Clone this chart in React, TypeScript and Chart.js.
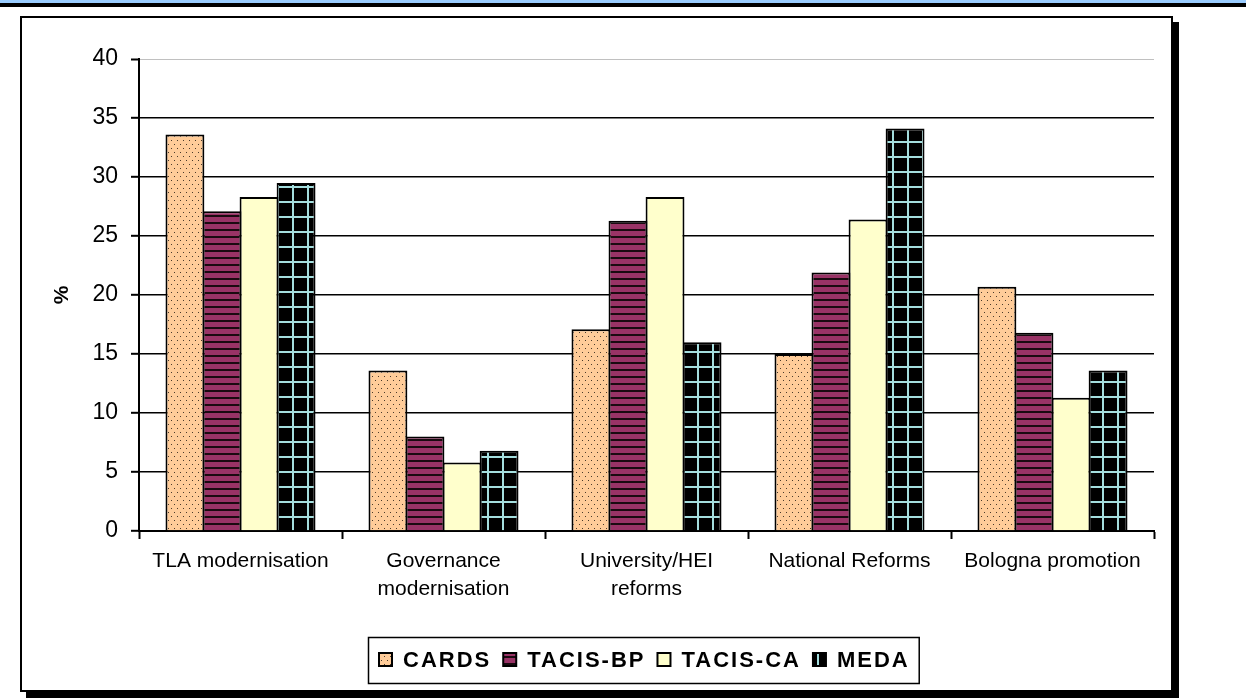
import React, { useEffect, useRef } from "react";
import { Chart, registerables } from "chart.js";

Chart.register(...registerables);

// ---- data ----
const categories: (string | string[])[] = [
  "TLA modernisation",
  ["Governance", "modernisation"],
  ["University/HEI", "reforms"],
  "National Reforms",
  "Bologna promotion",
];
const seriesNames = ["CARDS", "TACIS-BP", "TACIS-CA", "MEDA"];
const cardsValues = [33.6, 13.6, 17.1, 15.0, 20.7];
const tacisBpValues = [27.1, 8.0, 26.3, 21.9, 16.8];
const tacisCaValues = [28.3, 5.8, 28.3, 26.4, 11.3];
const medaValues = [29.5, 6.8, 16.0, 34.1, 13.6];
const yMin = 0;
const yMax = 40;
const yStep = 5;
const yAxisTitle = "%";

const FONT = 'Arial, "Liberation Sans", sans-serif';

function makeTile(w: number, h: number, draw: (g: CanvasRenderingContext2D) => void) {
  const c = document.createElement("canvas");
  c.width = w;
  c.height = h;
  const g = c.getContext("2d")!;
  draw(g);
  return c;
}

const boxLegend = {
  id: "boxLegend",
  afterDraw(chart: any) {
    const ctx: CanvasRenderingContext2D = chart.ctx;
    ctx.save();
    ctx.font = `bold 22px ${FONT}`;
    (ctx as any).letterSpacing = "2px";
    ctx.textBaseline = "middle";
    ctx.textAlign = "left";
    const left = 368;
    const top = 637;
    const bottom = 683;
    const cy = 660;
    const items = chart.data.datasets.map((ds: any) => ({ label: ds.label, fill: ds.backgroundColor }));
    let cx = left + 11;
    const pos: { sx: number; tx: number; w: number }[] = [];
    items.forEach((it: any) => {
      const w = ctx.measureText(it.label).width;
      pos.push({ sx: cx, tx: cx + 24, w });
      cx = cx + 24 + w + 12;
    });
    const right = cx - 12 + 9;
    ctx.lineWidth = 1.5;
    ctx.strokeStyle = "#000";
    ctx.strokeRect(left + 0.5, top + 0.5, right - left, bottom - top);
    items.forEach((it: any, i: number) => {
      ctx.fillStyle = it.fill;
      ctx.fillRect(pos[i].sx, cy - 7, 13, 13);
      ctx.lineWidth = 2;
      ctx.strokeRect(pos[i].sx, cy - 7, 13, 13);
      ctx.fillStyle = "#000";
      ctx.fillText(it.label, pos[i].tx, cy + 1);
    });
    ctx.restore();
  },
};

export default function App() {
  const canvasRef = useRef<HTMLCanvasElement | null>(null);

  useEffect(() => {
    const canvas = canvasRef.current!;
    const ctx = canvas.getContext("2d")!;

    const dots = ctx.createPattern(
      makeTile(6, 8, (g) => {
        g.fillStyle = "#FFCC99";
        g.fillRect(0, 0, 6, 8);
        g.fillStyle = "#4a3a2a";
        g.fillRect(0, 0, 1, 1);
        g.fillRect(3, 4, 1, 1);
      }),
      "repeat"
    )!;
    const stripes = ctx.createPattern(
      makeTile(4, 7, (g) => {
        g.fillStyle = "#993366";
        g.fillRect(0, 0, 4, 7);
        g.fillStyle = "#1a0a10";
        g.fillRect(0, 5, 4, 2);
      }),
      "repeat"
    )!;
    const grid = ctx.createPattern(
      makeTile(15, 15, (g) => {
        g.fillStyle = "#000";
        g.fillRect(0, 0, 15, 15);
        g.fillStyle = "#a4dede";
        g.fillRect(0, 6, 15, 2);
        g.fillRect(7, 0, 2, 15);
      }),
      "repeat"
    )!;

    const fills: any[] = [dots, stripes, "#FFFFCC", grid];
    const values = [cardsValues, tacisBpValues, tacisCaValues, medaValues];

    const chart = new Chart(canvas, {
      type: "bar",
      data: {
        labels: categories as any,
        datasets: seriesNames.map((name, i) => ({
          label: name,
          data: values[i],
          backgroundColor: fills[i],
          borderColor: "#000",
          borderWidth: 2,
          categoryPercentage: 0.73,
          barPercentage: 1.05,
        })),
      },
      options: {
        animation: false,
        responsive: false,
        maintainAspectRatio: false,
        layout: { padding: { left: 40, right: 92, top: 59, bottom: 69 } },
        plugins: {
          legend: { display: false },
          tooltip: { enabled: false },
        },
        scales: {
          x: {
            grid: {
              drawOnChartArea: false,
              drawTicks: true,
              tickLength: 8,
              tickColor: "#000",
              tickWidth: 2,
              offset: true,
            },
            border: { display: true, color: "#000", width: 2 },
            ticks: {
              color: "#000",
              font: { family: FONT, size: 21, lineHeight: 1.3 },
              padding: 9,
              maxRotation: 0,
              autoSkip: false,
            },
            afterFit: (s: any) => {
              s.height = 100;
            },
          },
          y: {
            min: yMin,
            max: yMax,
            ticks: {
              stepSize: yStep,
              color: "#000",
              font: { family: FONT, size: 23 },
              padding: 13,
            },
            grid: {
              color: (c: any) => (c.tick && c.tick.value === yMax ? "#c0c0c0" : "#000"),
              lineWidth: (c: any) => (c.tick && c.tick.value === yMax ? 1 : 1.6),
              tickColor: "#000",
              tickWidth: 2,
              tickLength: 8,
            },
            border: { display: true, color: "#000", width: 2 },
            title: {
              display: true,
              text: yAxisTitle,
              color: "#000",
              font: { family: FONT, size: 21, weight: "bold" },
              padding: { top: 10, bottom: 0 },
            },
            afterFit: (s: any) => {
              s.width = 99;
            },
          },
        },
      } as any,
      plugins: [boxLegend],
    });

    return () => chart.destroy();
  }, []);

  return (
    <div style={{ position: "absolute", left: 0, top: 0, width: 1246, height: 700, background: "#fff", overflow: "hidden" }}>
      <div style={{ position: "absolute", left: 0, top: 0, width: 1246, height: 3, background: "#99CCFF" }} />
      <div style={{ position: "absolute", left: 0, top: 3, width: 1246, height: 4, background: "#000" }} />
      <div
        style={{
          position: "absolute",
          left: 20,
          top: 16,
          width: 1149,
          height: 672,
          border: "2px solid #000",
          boxShadow: "6px 6px 0 #000",
          background: "#fff",
        }}
      />
      <canvas
        ref={canvasRef}
        width={1246}
        height={700}
        style={{ position: "absolute", left: 0, top: 0, width: 1246, height: 700, display: "block" }}
      />
    </div>
  );
}
